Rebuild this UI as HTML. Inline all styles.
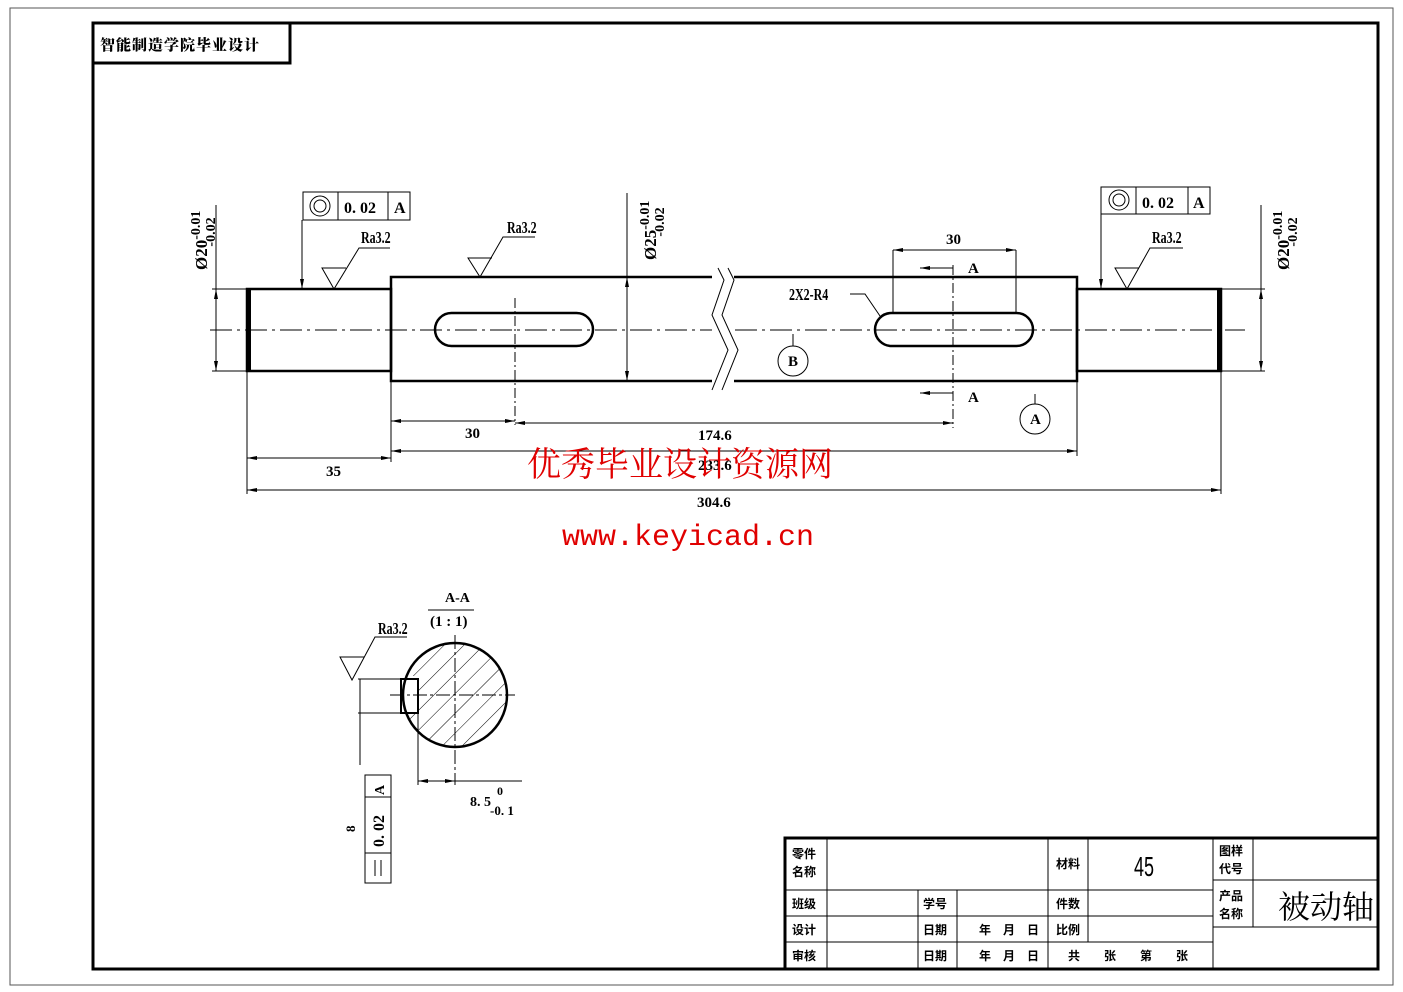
<!DOCTYPE html>
<html><head><meta charset="utf-8"><style>
html,body{margin:0;padding:0;background:#fff}
svg{display:block}
text{font-family:"Liberation Sans","Noto Sans CJK SC",sans-serif;fill:#000}
.n{font-family:"Liberation Serif","Noto Serif CJK SC",serif;font-weight:bold}
</style></head><body>
<svg width="1403" height="992" viewBox="0 0 1403 992" xmlns="http://www.w3.org/2000/svg">
<defs>
<marker id="a" viewBox="0 0 10 4" refX="10" refY="2" markerWidth="10" markerHeight="4" orient="auto-start-reverse" markerUnits="userSpaceOnUse"><path d="M0,0L10,2L0,4z" fill="#000"/></marker>
<pattern id="h" width="14" height="14" patternUnits="userSpaceOnUse" patternTransform="rotate(45)"><line x1="0" y1="0" x2="0" y2="14" stroke="#000" stroke-width="1"/></pattern>
<clipPath id="c"><circle cx="455" cy="695" r="52"/></clipPath>
</defs>
<rect x="10" y="8" width="1383" height="977" fill="none" stroke="#555" stroke-width="1"/>
<rect x="93" y="23" width="1285" height="946" fill="none" stroke="#000" stroke-width="3"/>
<rect x="93" y="23" width="197" height="40" fill="none" stroke="#000" stroke-width="3"/>
<text x="100" y="50" style="font-size:15px;font-weight:900;font-family:'Noto Serif CJK SC','Noto Sans CJK SC',serif;letter-spacing:1px">智能制造学院毕业设计</text>

<line x1="210" y1="330" x2="1245" y2="330" stroke="#000" stroke-width="1" stroke-dasharray="22,5,3,5"/>
<g fill="none" stroke="#000" stroke-width="2.5">
<rect x="247" y="289" width="144" height="82"/>
<rect x="391" y="277" width="686" height="104"/>
<rect x="1077" y="289" width="144" height="82"/>
<line x1="249" y1="289" x2="249" y2="371" stroke-width="4"/>
<line x1="1219" y1="289" x2="1219" y2="371" stroke-width="4"/>
<rect x="435" y="313" width="158" height="33" rx="16.5"/>
<rect x="875" y="313" width="158" height="33" rx="16.5"/>
</g>
<rect x="712" y="270" width="22" height="120" fill="#fff"/>
<polyline points="718,268 724,280 712,315 728,350 712,390" fill="none" stroke="#000" stroke-width="1"/>
<polyline points="728,268 734,280 722,315 738,350 722,390" fill="none" stroke="#000" stroke-width="1"/>
<line x1="515" y1="298" x2="515" y2="425" stroke="#000" stroke-width="1" stroke-dasharray="10,3,2,3"/>
<line x1="953" y1="265" x2="953" y2="428" stroke="#000" stroke-width="1" stroke-dasharray="10,3,2,3"/>

<g stroke="#000" stroke-width="1" fill="none">
<line x1="247" y1="289" x2="212" y2="289"/><line x1="247" y1="371" x2="212" y2="371"/>
<line x1="216" y1="205" x2="216" y2="371" /><line x1="216" y1="295" x2="216" y2="289" marker-end="url(#a)"/><line x1="216" y1="365" x2="216" y2="371" marker-end="url(#a)"/>
<line x1="627" y1="193" x2="627" y2="381"/><line x1="627" y1="290" x2="627" y2="277" marker-end="url(#a)"/><line x1="627" y1="370" x2="627" y2="381" marker-end="url(#a)"/>
<line x1="1221" y1="289" x2="1265" y2="289"/><line x1="1221" y1="371" x2="1265" y2="371"/>
<line x1="1261" y1="205" x2="1261" y2="371"/><line x1="1261" y1="300" x2="1261" y2="289" marker-end="url(#a)"/><line x1="1261" y1="360" x2="1261" y2="371" marker-end="url(#a)"/>
<line x1="247" y1="371" x2="247" y2="494"/>
<line x1="391" y1="381" x2="391" y2="462"/>
<line x1="1077" y1="381" x2="1077" y2="456"/>
<line x1="1221" y1="371" x2="1221" y2="494"/>
<line x1="391" y1="421" x2="515" y2="421" marker-start="url(#a)" marker-end="url(#a)"/>
<line x1="515" y1="423" x2="953" y2="423" marker-start="url(#a)" marker-end="url(#a)"/>
<line x1="391" y1="451" x2="1077" y2="451" marker-start="url(#a)" marker-end="url(#a)"/>
<line x1="247" y1="458" x2="391" y2="458" marker-start="url(#a)" marker-end="url(#a)"/>
<line x1="247" y1="490" x2="1221" y2="490" marker-start="url(#a)" marker-end="url(#a)"/>
<line x1="893" y1="250" x2="893" y2="313"/><line x1="1016" y1="250" x2="1016" y2="313"/>
<line x1="893" y1="250" x2="1016" y2="250" marker-start="url(#a)" marker-end="url(#a)"/>
<line x1="920" y1="268" x2="953" y2="268" marker-start="url(#a)"/>
<line x1="920" y1="393" x2="953" y2="393" marker-start="url(#a)"/>
<line x1="302" y1="220" x2="302" y2="289" marker-end="url(#a)"/>
<line x1="1101" y1="214" x2="1101" y2="289" marker-end="url(#a)"/>
<polyline points="346,268 322,268 334,289 359,248 390,248"/>
<polyline points="492,258 468,258 480,277 503,237 535,237"/>
<polyline points="1139,268 1115,268 1127,289 1150,248 1183,248"/>
<polyline points="364,657 340,657 352,680 375,637 407,637"/>
<polyline points="850,294 865,294 880,316"/>
<circle cx="793" cy="361" r="15"/><line x1="793" y1="334" x2="793" y2="346"/>
<circle cx="1035" cy="419" r="15"/><line x1="1035" y1="394" x2="1035" y2="404"/>
</g>
<g fill="none" stroke="#000" stroke-width="1">
<rect x="303" y="192" width="107" height="28"/><line x1="338" y1="192" x2="338" y2="220"/><line x1="388" y1="192" x2="388" y2="220"/>
<circle cx="320" cy="206" r="10"/><circle cx="320" cy="206" r="6"/>
<rect x="1101" y="187" width="109" height="27"/><line x1="1136" y1="187" x2="1136" y2="214"/><line x1="1188" y1="187" x2="1188" y2="214"/>
<circle cx="1119" cy="200" r="10"/><circle cx="1119" cy="200" r="6"/>
</g>
<g class="n" font-size="16">
<text x="344" y="213" class="n">0. 02</text><text x="394" y="213" class="n">A</text>
<text x="1142" y="208" class="n">0. 02</text><text x="1193" y="208" class="n">A</text>
</g>
<g font-size="15" class="n">
<text x="361" y="243" class="n" transform="translate(361 243) scale(0.8 1.1) translate(-361 -243)">Ra3.2</text>
<text x="507" y="233" class="n" transform="translate(507 233) scale(0.8 1.1) translate(-507 -233)">Ra3.2</text>
<text x="1152" y="243" class="n" transform="translate(1152 243) scale(0.8 1.1) translate(-1152 -243)">Ra3.2</text>
<text x="378" y="634" class="n" transform="translate(378 634) scale(0.8 1.1) translate(-378 -634)">Ra3.2</text>
<text x="789" y="300" class="n" transform="translate(789 300) scale(0.8 1.1) translate(-789 -300)">2X2-R4</text>
<text x="465" y="438" class="n">30</text>
<text x="698" y="440" class="n">174.6</text>
<text x="698" y="470" class="n">233.6</text>
<text x="326" y="476" class="n">35</text>
<text x="697" y="507" class="n">304.6</text>
<text x="946" y="244" class="n">30</text>
<text x="968" y="273" class="n">A</text>
<text x="968" y="402" class="n">A</text>
<text x="788" y="366" class="n">B</text>
<text x="1030" y="424" class="n">A</text>
</g>
<g class="n">
<text transform="translate(207 270) rotate(-90)" class="n" font-size="17">Ø20<tspan dy="-7" font-size="14">-0.01</tspan><tspan dx="-36" dy="15" font-size="14">-0.02</tspan></text>
<text transform="translate(656 260) rotate(-90)" class="n" font-size="17">Ø25<tspan dy="-7" font-size="14">-0.01</tspan><tspan dx="-36" dy="15" font-size="14">-0.02</tspan></text>
<text transform="translate(1289 270) rotate(-90)" class="n" font-size="17">Ø20<tspan dy="-7" font-size="14">-0.01</tspan><tspan dx="-36" dy="15" font-size="14">-0.02</tspan></text>
</g>
<text x="527" y="476" style="font-size:34px;fill:#e00000;font-family:'Noto Serif CJK SC','Noto Sans CJK SC',serif">优秀毕业设计资源网</text>
<text x="562" y="545" style="font-size:30px;fill:#e00000;font-family:'Liberation Mono',monospace">www.keyicad.cn</text>

<text x="445" y="602" font-size="14" class="n">A-A</text>
<line x1="428" y1="610" x2="474" y2="610" stroke="#000"/>
<text x="430" y="626" font-size="15" class="n">(1 : 1)</text>
<rect x="380" y="640" width="150" height="110" fill="url(#h)" clip-path="url(#c)"/>
<rect x="398" y="676" width="20" height="38" fill="#fff"/>
<circle cx="455" cy="695" r="52" fill="none" stroke="#000" stroke-width="2.5"/>
<rect x="401" y="679" width="17" height="34" fill="none" stroke="#000" stroke-width="2"/>
<g stroke="#000" stroke-width="1" fill="none">
<line x1="455" y1="635" x2="455" y2="785" stroke-dasharray="14,3,3,3"/>
<line x1="390" y1="695" x2="515" y2="695" stroke-dasharray="14,3,3,3"/>
<line x1="358" y1="679" x2="401" y2="679"/><line x1="358" y1="713" x2="401" y2="713"/>
<line x1="360" y1="679" x2="360" y2="765"/>
<line x1="418" y1="713" x2="418" y2="785"/>
<line x1="418" y1="781" x2="522" y2="781"/>
<line x1="430" y1="781" x2="418" y2="781" marker-end="url(#a)"/><line x1="442" y1="781" x2="455" y2="781" marker-end="url(#a)"/>
<rect x="365" y="775" width="26" height="108"/><line x1="365" y1="797" x2="391" y2="797"/><line x1="365" y1="853" x2="391" y2="853"/>
<line x1="375" y1="860" x2="375" y2="876"/><line x1="381" y1="860" x2="381" y2="876"/>
</g>
<text transform="translate(384 795) rotate(-90)" font-size="14" class="n">A</text>
<text transform="translate(384 847) rotate(-90)" font-size="16" class="n">0. 02</text>
<text transform="translate(355 832) rotate(-90)" font-size="13" class="n">8</text>
<text x="470" y="806" font-size="14" class="n">8. 5</text>
<text x="497" y="795" font-size="12" class="n">0</text>
<text x="490" y="815" font-size="13" class="n">-0. 1</text>

<g stroke="#000" fill="none">
<rect x="785" y="838" width="593" height="131" stroke-width="3"/>
<g stroke-width="1">
<line x1="785" y1="890" x2="1213" y2="890"/><line x1="785" y1="916" x2="1213" y2="916"/><line x1="785" y1="942" x2="1213" y2="942"/>
<line x1="1213" y1="880" x2="1378" y2="880"/><line x1="1213" y1="927" x2="1378" y2="927"/>
<line x1="827" y1="838" x2="827" y2="969"/>
<line x1="918" y1="890" x2="918" y2="969"/><line x1="957" y1="890" x2="957" y2="969"/>
<line x1="1048" y1="838" x2="1048" y2="969"/><line x1="1088" y1="838" x2="1088" y2="942"/>
<line x1="1213" y1="838" x2="1213" y2="969"/><line x1="1253" y1="838" x2="1253" y2="927"/>
</g></g>
<g style="font-size:12px;font-weight:bold;font-family:'Noto Sans CJK SC',sans-serif">
<text x="792" y="858">零件</text><text x="792" y="876">名称</text>
<text x="792" y="908">班级</text><text x="792" y="934">设计</text><text x="792" y="960">审核</text>
<text x="923" y="908">学号</text><text x="923" y="934">日期</text><text x="923" y="960">日期</text>
<text x="979" y="934">年　月　日</text><text x="979" y="960">年　月　日</text>
<text x="1056" y="868">材料</text><text x="1056" y="908">件数</text><text x="1056" y="934">比例</text>
<text x="1068" y="960">共　　张　　第　　张</text>
<text x="1219" y="855">图样</text><text x="1219" y="873">代号</text>
<text x="1219" y="900">产品</text><text x="1219" y="918">名称</text>
</g>
<text x="1134" y="876" transform="translate(1134 876) scale(0.75 1.15) translate(-1134 -876)" style="font-size:24px;font-family:'Liberation Sans',sans-serif">45</text>
<text x="1278" y="918" style="font-size:32px;font-family:'Noto Serif CJK SC','Noto Sans CJK SC',serif">被动轴</text>
</svg>
</body></html>
